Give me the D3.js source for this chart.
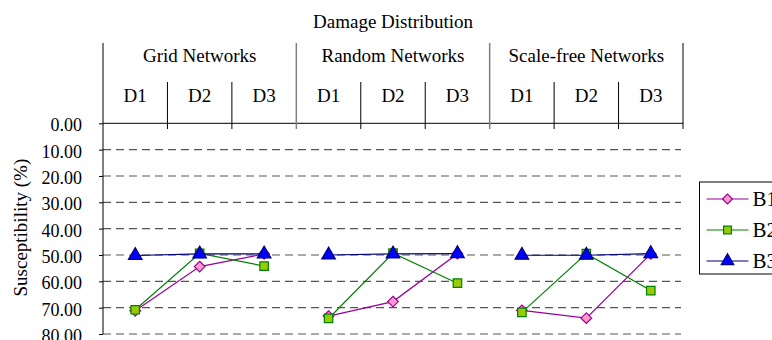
<html><head>
<script src="https://cdnjs.cloudflare.com/ajax/libs/d3/7.8.5/d3.min.js"></script>
<style>
body {
    margin: 0;
    background: white;
}
.grid line {
    stroke: #555;
    stroke-width: 1.2;
    stroke-dasharray: 8,5;
}
</style>
</head>
<body>
<div id="chart"></div>
<script>
// data
const groups = ["Grid Networks", "Random Networks", "Scale-free Networks"];
const dists = ["D1", "D2", "D3"];
const yTicks = [0, 10, 20, 30, 40, 50, 60, 70, 80];
const seriesNames = ["B1", "B2", "B3"];
const b1 = [[71.2, 54.4, 49.6], [73.2, 67.7, 49.5], [71.0, 74.0, 49.6]];
const b2 = [[70.8, 49.4, 54.2], [74.1, 49.3, 60.7], [71.8, 49.5, 63.5]];
const b3 = [[50.2, 49.6, 49.6], [50.0, 49.6, 49.5], [50.1, 50.1, 49.5]];

const width = 772, height = 340;
const plotLeft = 103, plotRight = 683, plotTop = 123.3, plotBottom = 334;
const serif = "'Liberation Serif', 'Times New Roman', Times, 'DejaVu Serif', serif";

const svg = d3.select("#chart").append("svg")
    .attr("width", width)
    .attr("height", height)
    .attr("font-family", serif);

// scales
const cols = [];
groups.forEach(g => dists.forEach(d => cols.push(g + "|" + d)));
const x = d3.scaleBand().domain(cols).range([plotLeft, plotRight]);
const xg = d3.scaleBand().domain(groups).range([plotLeft, plotRight]);
const y = d3.scaleLinear().domain([0, 80]).range([plotTop, plotBottom]);

// dashed grid
svg.append("g")
    .attr("class", "grid")
    .selectAll("line")
    .data(yTicks.filter(t => t > 0))
    .join("line")
    .attr("x1", plotLeft).attr("x2", plotRight - 2)
    .attr("y1", d => y(d)).attr("y2", d => y(d));

// y axis
const yAxis = svg.append("g")
    .attr("transform", `translate(${plotLeft},0)`)
    .call(d3.axisLeft(y).tickValues(yTicks).tickSize(4).tickPadding(17)
        .tickFormat(d3.format(".2f")));
yAxis.attr("font-family", serif).attr("font-size", 18);
yAxis.select(".domain").attr("stroke", "#000").attr("d", `M0,${plotTop}V${plotBottom}`);
yAxis.selectAll("text").attr("dy", "0.42em");

svg.append("text")
    .attr("transform", "rotate(-90)")
    .attr("x", -(plotTop + plotBottom) / 2 + 1)
    .attr("y", 27)
    .attr("text-anchor", "middle")
    .attr("font-size", 19)
    .text("Susceptibility (%)");

// header: top line, dividers, labels
svg.append("line")
    .attr("x1", plotLeft).attr("x2", plotRight)
    .attr("y1", plotTop).attr("y2", plotTop)
    .attr("stroke", "#000");

cols.forEach((c, i) => {
    if (i % 3 === 0) return;
    svg.append("line")
        .attr("x1", x(c)).attr("x2", x(c))
        .attr("y1", 82).attr("y2", 129)
        .attr("stroke", "#000");
});
groups.forEach((g, i) => {
    if (i === 0) return;
    svg.append("line")
        .attr("x1", xg(g)).attr("x2", xg(g))
        .attr("y1", 43).attr("y2", 129)
        .attr("stroke", "#808080")
        .attr("stroke-width", 1.5);
});
svg.append("line")
    .attr("x1", plotLeft).attr("x2", plotLeft)
    .attr("y1", 43).attr("y2", plotTop)
    .attr("stroke", "#000");
svg.append("line")
    .attr("x1", plotRight).attr("x2", plotRight)
    .attr("y1", 43).attr("y2", 129)
    .attr("stroke", "#000");

svg.append("text")
    .attr("x", 393).attr("y", 27.5)
    .attr("text-anchor", "middle")
    .attr("font-size", 19)
    .text("Damage Distribution");

svg.selectAll(".glabel")
    .data(groups)
    .join("text")
    .attr("x", d => xg(d) + xg.bandwidth() / 2)
    .attr("y", 62)
    .attr("text-anchor", "middle")
    .attr("font-size", 19)
    .text(d => d);

svg.selectAll(".dlabel")
    .data(cols)
    .join("text")
    .attr("x", d => x(d) + x.bandwidth() / 2)
    .attr("y", 101.5)
    .attr("text-anchor", "middle")
    .attr("font-size", 19)
    .text(d => d.split("|")[1]);

// series
const series = [
    {name: seriesNames[0], values: b1, line: "#990099", fill: "#ff99cc", stroke: "#990099", sym: d3.symbolDiamond2, size: 72},
    {name: seriesNames[1], values: b2, line: "#008000", fill: "#99cc00", stroke: "#008000", sym: d3.symbolSquare, size: 72},
    {name: seriesNames[2], values: b3, line: "#000080", fill: "#0000ff", stroke: "#000080", sym: d3.symbolTriangle, size: 80}
];

const line = d3.line()
    .x(d => x(d.col) + x.bandwidth() / 2)
    .y(d => y(d.v));

series.forEach(s => {
    const g = svg.append("g");
    groups.forEach((grp, gi) => {
        const pts = dists.map((d, di) => ({col: grp + "|" + d, v: s.values[gi][di]}));
        g.append("path")
            .datum(pts)
            .attr("d", line)
            .attr("fill", "none")
            .attr("stroke", s.line)
            .attr("stroke-width", 1.2);
        g.selectAll(null)
            .data(pts)
            .join("path")
            .attr("d", d3.symbol().type(s.sym).size(s.size))
            .attr("transform", d => `translate(${x(d.col) + x.bandwidth() / 2},${y(d.v)})`)
            .attr("fill", s.fill)
            .attr("stroke", s.stroke)
            .attr("stroke-width", 1.2);
    });
});

// legend
const legend = svg.append("g").attr("transform", "translate(699.5,182)");
legend.append("rect")
    .attr("width", 100).attr("height", 92)
    .attr("fill", "white")
    .attr("stroke", "#000");

series.forEach((s, i) => {
    const ly = 17 + i * 31;
    legend.append("line")
        .attr("x1", 7).attr("x2", 49)
        .attr("y1", ly).attr("y2", ly)
        .attr("stroke", s.line)
        .attr("stroke-width", 1.2);
    legend.append("path")
        .attr("d", d3.symbol().type(s.sym).size(s.size * 0.85))
        .attr("transform", `translate(28,${ly})`)
        .attr("fill", s.fill)
        .attr("stroke", s.stroke)
        .attr("stroke-width", 1.2);
    legend.append("text")
        .attr("x", 53).attr("y", ly + 7)
        .attr("font-size", 21)
        .text(s.name);
});
</script>
</body></html>
